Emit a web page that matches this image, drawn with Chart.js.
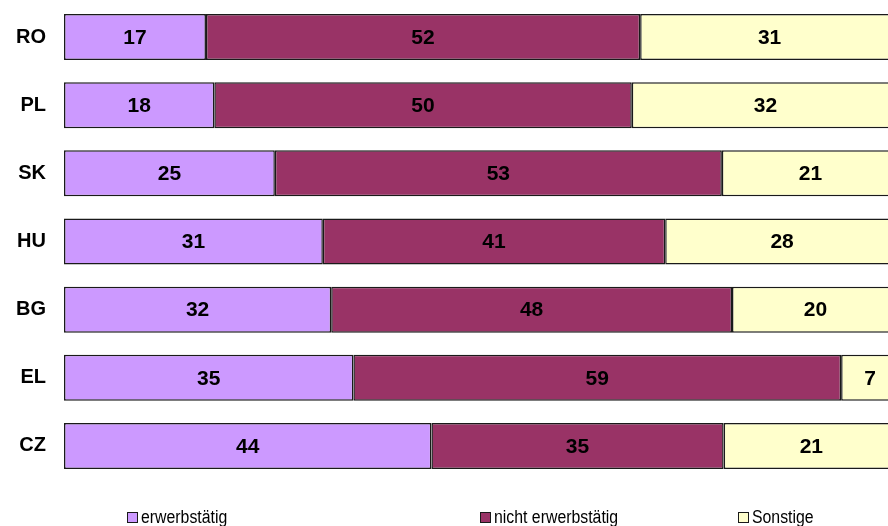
<!DOCTYPE html>
<html>
<head>
<meta charset="utf-8">
<script src="https://cdn.jsdelivr.net/npm/chart.js@4"></script>
<style>
  html, body { margin: 0; padding: 0; background: #fff; overflow: hidden; }
  #wrap { width: 910px; height: 526px; }
</style>
</head>
<body>
<div id="wrap"><canvas id="myChart" width="910" height="526"></canvas></div>
<script>
// countries, top to bottom
let countries = ['RO', 'PL', 'SK', 'HU', 'BG', 'EL', 'CZ'];
let seriesNames = ['erwerbstätig', 'nicht erwerbstätig', 'Sonstige'];
let employed = [17, 18, 25, 31, 32, 35, 44];
let notEmployed = [52, 50, 53, 41, 48, 59, 35];
let other = [31, 32, 21, 28, 20, 7, 21];
let colours = ['#CC99FF', '#993366', '#FFFFCC'];

let raw = [employed, notEmployed, other];

// 100% stacked: scale every row to its own total
function share(i, j) {
    let total = employed[j] + notEmployed[j] + other[j];
    return raw[i][j] / total * 100;
}

const datasets = raw.map(function (vals, i) {
    return {
        label: seriesNames[i],
        data: vals.map((v, j) => share(i, j)),
        shown: vals,
        backgroundColor: colours[i],
        borderColor: '#1a1a1a',
        borderWidth: 1.5,
        borderSkipped: false,
        barPercentage: 0.675,
        categoryPercentage: 1
    };
});

// numbers in the middle of each segment
const valueLabels = {
    id: 'valueLabels',
    afterDatasetsDraw(chart) {
        const ctx = chart.ctx;
        ctx.save();
        ctx.font = 'bold 21px "Liberation Sans", Arial, sans-serif';
        ctx.fillStyle = '#000';
        ctx.textAlign = 'center';
        ctx.textBaseline = 'middle';
        chart.data.datasets.forEach(function (ds, i) {
            chart.getDatasetMeta(i).data.forEach(function (bar, j) {
                let cx = (bar.x + bar.base) / 2;
                ctx.fillText(ds.shown[j], cx, bar.y + 1);
            });
        });
        ctx.restore();
    }
};

// legend along the bottom, spaced like the original
const legendSlots = [127, 480, 738];
const bottomLegend = {
    id: 'bottomLegend',
    afterDraw(chart) {
        const ctx = chart.ctx;
        ctx.save();
        ctx.textBaseline = 'alphabetic';
        ctx.textAlign = 'left';
        chart.data.datasets.forEach(function (ds, i) {
            let x = legendSlots[i];
            let y = 517;
            ctx.fillStyle = ds.backgroundColor;
            ctx.fillRect(x, y - 5, 10, 10);
            ctx.strokeStyle = '#1a1a1a';
            ctx.lineWidth = 1;
            ctx.strokeRect(x + 0.5, y - 4.5, 10, 10);
            // narrow-looking text: squeeze a slightly bigger font
            ctx.save();
            ctx.translate(x + 14, y + 6);
            ctx.scale(0.88, 1);
            ctx.font = '18px "Liberation Sans", Arial, sans-serif';
            ctx.fillStyle = '#000';
            ctx.fillText(ds.label, 0, 0);
            ctx.restore();
        });
        ctx.restore();
    }
};

const config = {
    type: 'bar',
    data: {
        labels: countries,
        datasets: datasets
    },
    options: {
        indexAxis: 'y',
        responsive: false,
        animation: false,
        devicePixelRatio: 1,
        layout: {
            padding: { top: 3, bottom: 46, left: 0, right: 11 }
        },
        plugins: {
            legend: { display: false },
            tooltip: { enabled: false }
        },
        scales: {
            x: {
                stacked: true,
                min: 0,
                max: 100,
                display: false
            },
            y: {
                stacked: true,
                grid: { display: false, drawTicks: false },
                border: { display: false },
                ticks: {
                    padding: 18,
                    color: '#000',
                    font: { family: '"Liberation Sans", Arial, sans-serif', size: 20, weight: 'bold' }
                },
                afterFit(scale) {
                    scale.width = 64;
                    scale.paddingTop = 0;
                    scale.paddingBottom = 0;
                }
            }
        }
    },
    plugins: [valueLabels, bottomLegend]
};

const myChart = new Chart(
    document.getElementById('myChart'),
    config
);
</script>
</body>
</html>
